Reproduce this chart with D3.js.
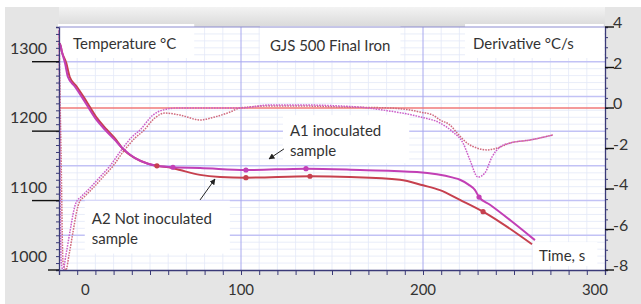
<!DOCTYPE html>
<html>
<head>
<meta charset="utf-8">
<script src="https://cdn.jsdelivr.net/npm/d3@7"></script>
<style>
  body { margin: 0; background: #fff; }
  svg { display: block; font-family: Lato, "Open Sans", sans-serif; }
</style>
</head>
<body>
<div id="chart"></div>
<script>
'use strict';

// temperature curves (time s, temperature °C)
const tempTimeA1 = [0, 0.5, 1.6, 3.3, 4.9, 8.8, 12.6, 15.9, 19.8, 25.3, 30.8, 34.6, 41.8, 48.9, 53.8, 62.6, 77.5, 102.7, 135.7, 165.4, 196.7, 216.5, 220.3, 225, 228.6, 230.8, 236.8, 247.8, 261.5];
const tempA1 = [1324, 1326, 1314, 1298, 1278, 1264, 1249, 1235, 1219, 1202, 1187, 1176, 1161, 1153, 1150, 1148, 1147, 1144, 1146, 1144, 1141, 1133, 1130, 1123, 1115, 1105, 1094, 1072, 1043];
const tempTimeA2 = [0, 0.5, 1.6, 4.0, 5.9, 9.8, 13.6, 16.9, 20.8, 26.3, 31.5, 34.6, 41.8, 48.9, 53.8, 62.1, 66.5, 77.5, 88.5, 102.7, 137.9, 159.9, 187.4, 200, 209.3, 220.3, 233, 242.3, 259.9];
const tempA2 = [1324, 1326, 1314, 1298, 1278, 1264, 1249, 1235, 1219, 1202, 1187, 1176, 1161, 1153, 1150, 1147, 1144, 1137, 1134, 1133, 1135, 1134, 1130, 1122, 1115, 1101, 1084, 1069, 1037];

// sample points marked on the temperature curves
const markTimeA1 = [62.6, 102.7, 135.7, 230.8];
const markTempA1 = [1148, 1144, 1146, 1105];
const markTimeA2 = [53.8, 102.7, 137.9, 233];
const markTempA2 = [1150, 1133, 1135, 1084];

// derivative curves (time s, °C/s)
const derTimeA1 = [0, 0.3, 0.7, 1.2, 2.2, 3.8, 6.0, 8.2, 9.3, 12.6, 17, 22.5, 28, 33.5, 40.1, 44.5, 51.6, 57.1, 64.8, 77.5, 99.5, 115.9, 132.4, 154.4, 170, 178, 198.4, 209.3, 216.5, 222, 225.8, 230.2, 234, 237.9, 242.3, 247.8, 258.8, 271.4];
const derA1 = [4, 0.4, -4.5, -7.6, -8, -7.26, -6.12, -5.04, -4.69, -4.35, -3.95, -3.41, -2.86, -2.17, -1.43, -1.09, -0.35, -0.1, 0, 0, 0, 0.15, 0.15, 0.1, 0, -0.1, -0.44, -0.74, -1.19, -1.73, -2.57, -3.41, -3.21, -2.42, -1.93, -1.73, -1.58, -1.33];
const derTimeA2 = [0, 0.5, 1.1, 2.2, 3.8, 5.5, 7.7, 9.9, 11, 14.3, 18.7, 24.2, 29.7, 35.2, 41.8, 46.2, 52.7, 58.2, 66.5, 77.5, 85.7, 94, 99.5, 115.9, 132.4, 154.4, 181.9, 192.9, 198.4, 205.5, 209.3, 214.8, 218.7, 224.2, 229.7, 235.2, 240.7, 247.8, 258.8, 271.4];
const derA2 = [3.8, 1, -2.1, -7.6, -8, -7.26, -6.12, -5.04, -4.69, -4.35, -3.95, -3.41, -2.86, -2.17, -1.48, -1.14, -0.49, -0.25, -0.35, -0.59, -0.44, -0.2, 0, 0.1, 0.1, 0.05, 0, -0.1, -0.2, -0.35, -0.59, -0.84, -1.23, -1.73, -1.98, -2.07, -1.98, -1.73, -1.58, -1.33];

// axis labels
const timeLabels = [0, 100, 200, 300];
const tempLabels = [1000, 1100, 1200, 1300];
const derLabels = [-8, -6, -4, -2, 0, 2, 4];

const width = 641;
const height = 304;
const margin = { top: 27, right: 36, bottom: 34, left: 59 };

const x = d3.scaleLinear().domain([0, 300]).range([margin.left, width - margin.right]);
const yT = d3.scaleLinear().domain([1000, 1350]).range([height - margin.bottom, margin.top]);
const yD = d3.scaleLinear().domain([-8, 4]).range([height - margin.bottom, margin.top]);

const svg = d3.select('#chart')
  .append('svg')
  .attr('width', width)
  .attr('height', height);

// backdrop
const grad = svg.append('defs').append('linearGradient')
  .attr('id', 'band').attr('x1', 0).attr('x2', 0).attr('y1', 0).attr('y2', 1);
grad.append('stop').attr('offset', '0%').attr('stop-color', '#f3f3f3');
grad.append('stop').attr('offset', '100%').attr('stop-color', '#d9d9d9');

svg.append('rect').attr('x', 5).attr('y', 7).attr('width', width - 5).attr('height', height - 7).attr('fill', '#e5e5e5');
svg.append('rect')
  .attr('x', margin.left).attr('y', 7)
  .attr('width', x(300) - margin.left).attr('height', margin.top - 7)
  .attr('fill', 'url(#band)');
svg.append('rect')
  .attr('x', margin.left).attr('y', margin.top)
  .attr('width', x(300) - margin.left).attr('height', yT(1000) - margin.top)
  .attr('fill', '#fff');

// grid
const grid = svg.append('g');
grid.selectAll('.vminor')
  .data(d3.range(10, 300, 10).filter((d) => d % 100 !== 0))
  .join('line')
  .attr('x1', (d) => x(d)).attr('x2', (d) => x(d))
  .attr('y1', margin.top).attr('y2', yT(1000))
  .attr('stroke', '#e3e8f8').attr('stroke-width', 0.8);
grid.selectAll('.hminor')
  .data(d3.range(1010, 1350, 10).filter((d) => d % 50 !== 0))
  .join('line')
  .attr('x1', x(0)).attr('x2', x(300))
  .attr('y1', (d) => yT(d)).attr('y2', (d) => yT(d))
  .attr('stroke', '#e3e8f8').attr('stroke-width', 0.8);
grid.selectAll('.hmajor')
  .data(d3.range(1050, 1301, 50))
  .join('line')
  .attr('x1', x(0)).attr('x2', x(300))
  .attr('y1', (d) => yT(d)).attr('y2', (d) => yT(d))
  .attr('stroke', '#c2c2f5').attr('stroke-width', 1.5);
grid.selectAll('.vmajor')
  .data([100, 200])
  .join('line')
  .attr('x1', (d) => x(d)).attr('x2', (d) => x(d))
  .attr('y1', margin.top).attr('y2', yT(1000))
  .attr('stroke', '#a8a8ee').attr('stroke-width', 1);

// text boxes (white patches over the grid)
const notes = svg.append('g').attr('font-size', 15).attr('fill', '#333');

const addNote = (lines, tx, ty, pad, anchor = 'start') => {
  const g = notes.append('g');
  const rect = g.append('rect').attr('fill', '#fff');
  const text = g.append('text')
    .attr('x', tx).attr('y', ty)
    .attr('text-anchor', anchor);
  lines.forEach((l, i) => {
    text.append('tspan').attr('x', tx).attr('dy', i === 0 ? 0 : 20).text(l);
  });
  const b = text.node().getBBox();
  rect.attr('x', b.x - pad[0]).attr('y', b.y - pad[1])
    .attr('width', b.width + pad[0] + pad[2])
    .attr('height', b.height + pad[1] + pad[3]);
};

addNote(['Temperature °C'], x(7.7), margin.top + 22, [15, 10, 18, 6]);
addNote(['GJS 500 Final Iron'], x(149), margin.top + 24, [10, 10, 10, 6], 'middle');
addNote(['Derivative °C/s'], x(227.5), margin.top + 22, [8, 10, 30, 6]);
addNote(['A1 inoculated', 'sample'], x(126.9), yT(1200) + 5, [7, 6, 28, 4]);
addNote(['A2 Not inoculated', 'sample'], x(18), yT(1074) + 5, [7, 8, 18, 7]);
addNote(['Time, s'], x(263.7), yT(1020) + 5, [6, 4, 12, 2]);

// zero line of the derivative
svg.append('line')
  .attr('x1', x(0)).attr('x2', x(300))
  .attr('y1', yD(0)).attr('y2', yD(0))
  .attr('stroke', '#f07878').attr('stroke-width', 1.6);

// curves
const plot = svg.append('g');
const clip = svg.append('clipPath').attr('id', 'clip').append('rect')
  .attr('x', margin.left - 3).attr('y', margin.top)
  .attr('width', x(300) - margin.left + 3).attr('height', yT(1000) - margin.top);
plot.attr('clip-path', 'url(#clip)');

const line = d3.line().curve(d3.curveMonotoneX);

const drawLine = (ts, vs, scale, color, w, dash) => {
  plot.append('path')
    .attr('d', line(ts.map((t, i) => [x(t), scale(vs[i])])))
    .attr('fill', 'none')
    .attr('stroke', color)
    .attr('stroke-width', w)
    .attr('stroke-dasharray', dash);
};

drawLine(derTimeA2, derA2, yD, '#d06a7e', 1.5, '1.6,1.1');
drawLine(derTimeA1, derA1, yD, '#cc5ec8', 1.5, '1.6,1.1');
drawLine(tempTimeA2, tempA2, yT, '#c6404e', 2, null);
drawLine(tempTimeA1, tempA1, yT, '#c23fb5', 2, null);

plot.selectAll('.m2')
  .data(markTimeA2)
  .join('circle')
  .attr('cx', (d) => x(d))
  .attr('cy', (d, i) => yT(markTempA2[i]))
  .attr('r', 2.6)
  .attr('fill', '#c6404e');
plot.selectAll('.m1')
  .data(markTimeA1)
  .join('circle')
  .attr('cx', (d) => x(d))
  .attr('cy', (d, i) => yT(markTempA1[i]))
  .attr('r', 2.6)
  .attr('fill', '#c23fb5');

// arrows
svg.append('defs').append('marker')
  .attr('id', 'head')
  .attr('viewBox', '0 0 10 10')
  .attr('refX', 9).attr('refY', 5)
  .attr('markerWidth', 6).attr('markerHeight', 6)
  .attr('orient', 'auto')
  .append('path')
  .attr('d', 'M0,0 L10,5 L0,10 z')
  .attr('fill', '#222');

const arrows = [
  [123.6, 1174.4, 115.4, 1160],
  [77.5, 1100.9, 85.7, 1131],
];
svg.selectAll('.arrow')
  .data(arrows)
  .join('line')
  .attr('x1', (d) => x(d[0])).attr('y1', (d) => yT(d[1]))
  .attr('x2', (d) => x(d[2])).attr('y2', (d) => yT(d[3]))
  .attr('stroke', '#222').attr('stroke-width', 1)
  .attr('marker-end', 'url(#head)');

// axes
const axisColor = '#3a3a78';

const leftAxis = svg.append('g')
  .attr('transform', `translate(${margin.left},0)`)
  .call(d3.axisLeft(yT).tickValues(d3.range(1000, 1351, 10)).tickSize(3).tickFormat(''));
const bottomAxis = svg.append('g')
  .attr('transform', `translate(0,${yT(1000)})`)
  .call(d3.axisBottom(x).tickValues(d3.range(0, 301, 10)).tickSize(5).tickFormat(''));
const rightAxis = svg.append('g')
  .attr('transform', `translate(${x(300)},0)`)
  .call(d3.axisRight(yD).tickValues(d3.range(-8, 4.01, 0.5)).tickSize(3).tickFormat(''));

[leftAxis, bottomAxis, rightAxis].forEach((a) => {
  a.select('.domain').attr('stroke', axisColor).attr('stroke-width', 1.3);
  a.selectAll('.tick line').attr('stroke', axisColor);
});

svg.append('line')
  .attr('x1', x(0)).attr('x2', x(300))
  .attr('y1', margin.top).attr('y2', margin.top)
  .attr('stroke', '#8c8cd0').attr('stroke-width', 1);

// major ticks and labels
svg.selectAll('.tmaj')
  .data(tempLabels)
  .join('line')
  .attr('x1', (d) => (d === 1000 ? 48 : 32)).attr('x2', margin.left)
  .attr('y1', (d) => yT(d)).attr('y2', (d) => yT(d))
  .attr('stroke', '#111').attr('stroke-width', 1.4);

svg.selectAll('.tlab')
  .data(tempLabels)
  .join('text')
  .attr('x', 47)
  .attr('y', (d) => yT(d) - 8)
  .attr('text-anchor', 'end')
  .attr('font-size', 16)
  .attr('fill', '#333')
  .text((d) => d);

svg.selectAll('.dmaj')
  .data(derLabels)
  .join('line')
  .attr('x1', x(300)).attr('x2', x(300) + 9)
  .attr('y1', (d) => yD(d)).attr('y2', (d) => yD(d))
  .attr('stroke', '#111').attr('stroke-width', 1.4);

svg.selectAll('.dlab')
  .data(derLabels)
  .join('text')
  .attr('x', x(300) + 8)
  .attr('y', (d) => yD(d) + 1)
  .attr('font-size', 16)
  .attr('fill', '#333')
  .text((d) => d);

svg.selectAll('.xlab')
  .data(timeLabels)
  .join('text')
  .attr('x', (d) => x(Math.min(Math.max(d, 14.5), 294.5)))
  .attr('y', yT(1000) + 25)
  .attr('text-anchor', 'middle')
  .attr('font-size', 15)
  .attr('fill', '#333')
  .text((d) => d);
</script>
</body>
</html>
